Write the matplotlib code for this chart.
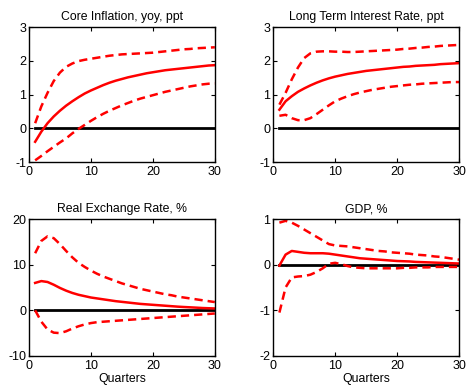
import numpy as np
import matplotlib.pyplot as plt

plt.rcParams['font.family'] = ['Liberation Sans', 'DejaVu Sans']
plt.rcParams['axes.unicode_minus'] = False

quarters = np.arange(1, 31)

core_mid = [-0.4, -0.1, 0.15, 0.35, 0.52, 0.67, 0.8, 0.92, 1.03, 1.12, 1.2, 1.28, 1.35, 1.41, 1.46,
            1.51, 1.55, 1.59, 1.63, 1.66, 1.69, 1.72, 1.74, 1.76, 1.78, 1.8, 1.82, 1.84, 1.86, 1.87]
core_hi = [0.15, 0.65, 1.05, 1.4, 1.65, 1.82, 1.92, 1.99, 2.03, 2.06, 2.09, 2.12, 2.15, 2.17, 2.19,
           2.2, 2.21, 2.22, 2.23, 2.24, 2.26, 2.28, 2.3, 2.32, 2.34, 2.35, 2.37, 2.38, 2.39, 2.4]
core_lo = [-0.95, -0.82, -0.68, -0.55, -0.42, -0.3, -0.15, -0.02, 0.1, 0.22, 0.33, 0.43, 0.52, 0.6, 0.68,
           0.75, 0.82, 0.88, 0.93, 0.98, 1.03, 1.08, 1.12, 1.16, 1.2, 1.24, 1.27, 1.3, 1.32, 1.33]

ltr_mid = [0.55, 0.8, 0.95, 1.08, 1.18, 1.27, 1.35, 1.42, 1.48, 1.53, 1.57, 1.61, 1.64, 1.67, 1.7,
           1.72, 1.74, 1.76, 1.78, 1.8, 1.82, 1.83, 1.85, 1.86, 1.87, 1.88, 1.9, 1.91, 1.92, 1.93]
ltr_hi = [0.7, 1.05, 1.45, 1.8, 2.08, 2.22, 2.27, 2.28, 2.28, 2.27, 2.27, 2.26, 2.26, 2.27, 2.28,
          2.29, 2.3, 2.31, 2.32, 2.33, 2.35, 2.36, 2.38, 2.39, 2.41, 2.42, 2.44, 2.45, 2.46, 2.47]
ltr_lo = [0.37, 0.4, 0.3, 0.24, 0.24, 0.3, 0.42, 0.55, 0.68, 0.8, 0.88, 0.95, 1.01, 1.06, 1.1,
          1.14, 1.17, 1.2, 1.23, 1.25, 1.27, 1.29, 1.3, 1.32, 1.33, 1.34, 1.35, 1.36, 1.37, 1.37]

rer_mid = [6.0, 6.4, 6.2, 5.6, 4.9, 4.3, 3.8, 3.4, 3.1, 2.8, 2.6, 2.4, 2.2, 2.0, 1.85,
           1.7, 1.55, 1.4, 1.3, 1.2, 1.1, 1.0, 0.9, 0.8, 0.72, 0.65, 0.58, 0.5, 0.45, 0.4]
rer_hi = [12.5, 15.2, 16.2, 15.8, 14.5, 13.0, 11.6, 10.4, 9.5, 8.7, 8.0, 7.4, 6.9, 6.4, 5.9,
          5.5, 5.1, 4.7, 4.4, 4.1, 3.8, 3.5, 3.3, 3.0, 2.8, 2.6, 2.4, 2.2, 2.0, 1.8]
rer_lo = [0.0, -2.5, -4.2, -4.9, -5.0, -4.6, -4.0, -3.5, -3.1, -2.8, -2.6, -2.5, -2.4, -2.3, -2.2,
          -2.1, -2.0, -1.9, -1.8, -1.7, -1.6, -1.5, -1.4, -1.3, -1.2, -1.1, -1.0, -0.9, -0.8, -0.7]

gdp_mid = [-0.02, 0.22, 0.3, 0.28, 0.26, 0.25, 0.25, 0.25, 0.24, 0.22, 0.2, 0.18, 0.16, 0.14, 0.13,
           0.12, 0.11, 0.1, 0.09, 0.08, 0.075, 0.07, 0.06, 0.055, 0.05, 0.045, 0.04, 0.035, 0.03, 0.025]
gdp_hi = [0.92, 0.96, 0.92, 0.85, 0.77, 0.69, 0.61, 0.53, 0.45, 0.42, 0.41, 0.4, 0.38, 0.36, 0.34,
          0.32, 0.3, 0.29, 0.27, 0.26, 0.25, 0.24, 0.22, 0.21, 0.2, 0.18, 0.17, 0.15, 0.13, 0.11]
gdp_lo = [-1.05, -0.5, -0.28, -0.26, -0.25, -0.22, -0.16, -0.08, 0.02, 0.04, 0.01, -0.03, -0.06, -0.07, -0.08,
          -0.08, -0.08, -0.08, -0.08, -0.08, -0.07, -0.07, -0.06, -0.06, -0.06, -0.05, -0.05, -0.05, -0.05, -0.05]

panels = [
    ('Core Inflation, yoy, ppt', core_mid, core_hi, core_lo, (-1, 3), [-1, 0, 1, 2, 3]),
    ('Long Term Interest Rate, ppt', ltr_mid, ltr_hi, ltr_lo, (-1, 3), [-1, 0, 1, 2, 3]),
    ('Real Exchange Rate, %', rer_mid, rer_hi, rer_lo, (-10, 20), [-10, 0, 10, 20]),
    ('GDP, %', gdp_mid, gdp_hi, gdp_lo, (-2, 1), [-2, -1, 0, 1]),
]

positions = [
    [0.062, 0.5835, 0.398, 0.347],
    [0.585, 0.5835, 0.398, 0.347],
    [0.062, 0.085, 0.398, 0.352],
    [0.585, 0.085, 0.398, 0.352],
]

fig = plt.figure(figsize=(4.67, 3.89), dpi=100)

for i, (title, mid, hi, lo, ylim, yticks) in enumerate(panels):
    ax = fig.add_axes(positions[i])
    ax.plot(quarters, np.zeros(len(quarters)), color='black', lw=2)
    ax.plot(quarters, mid, color='red', lw=1.8)
    ax.plot(quarters, hi, color='red', lw=1.8, dashes=(3.3, 2.0))
    ax.plot(quarters, lo, color='red', lw=1.8, dashes=(3.3, 2.0))
    ax.set_xlim(0, 30)
    ax.set_ylim(*ylim)
    ax.set_xticks([0, 10, 20, 30])
    ax.set_yticks(yticks)
    ax.tick_params(direction='in', top=True, right=True, length=3, width=0.8, labelsize=9)
    ax.tick_params(axis='x', pad=3)
    ax.tick_params(axis='y', pad=2)
    for s in ax.spines.values():
        s.set_linewidth(1.0)
    ax.set_title(title, fontsize=8.8, pad=5)
    if i >= 2:
        ax.set_xlabel('Quarters', fontsize=8.8, labelpad=1)

fig.savefig('out.png', dpi=100)
